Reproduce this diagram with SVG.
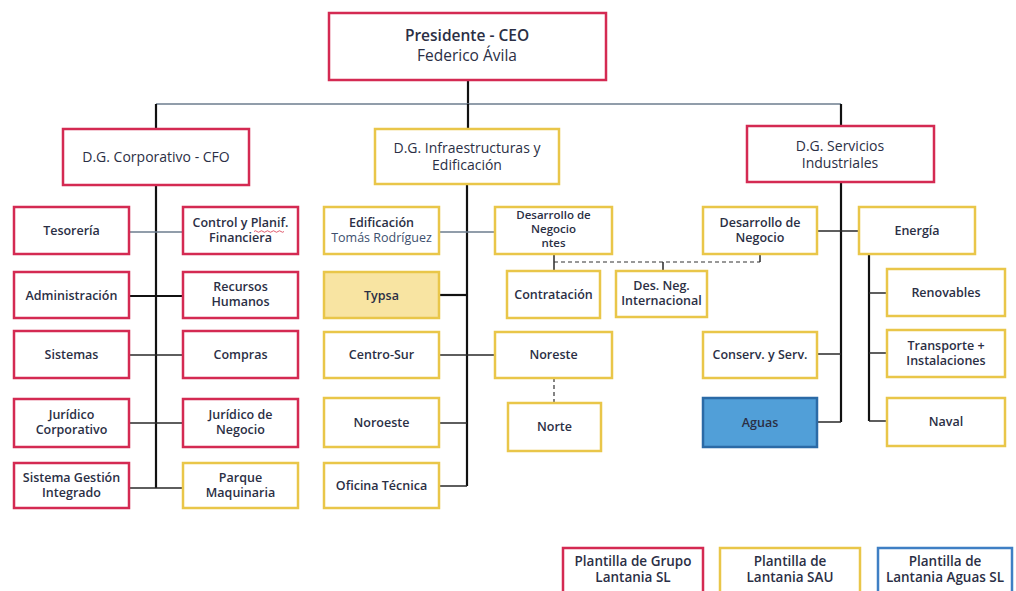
<svg xmlns="http://www.w3.org/2000/svg" width="1016" height="591" viewBox="0 0 1016 591">
<style>
.bx{fill:#fff;stroke-width:2.5}
.r{stroke:#d42a52}
.y{stroke:#e9c649}
.b{stroke:#3f7fc4}
.t{font-family:"Open Sans","Noto Sans",sans-serif;font-size:12.5px;font-weight:600;fill:#2b2f45;text-anchor:middle}
.dg{font-size:14px;font-weight:500}
.lg{font-size:13.5px}
.n{font-weight:400}
.main{stroke:#111;stroke-width:2.2;fill:none}
.br{stroke:#2a2a2a;stroke-width:1.5;fill:none}
.lt{stroke:#6c7c8e;stroke-width:1.4;fill:none}
.ds{stroke:#333;stroke-width:1.2;stroke-dasharray:4 3;fill:none}
</style>
<rect width="1016" height="591" fill="#fff"/>
<g id="connectors">
<path class="main" d="M468 80V104"/>
<path class="lt" d="M156 104H841"/>
<path class="main" d="M156 104V129M468 104V129M841 104V126"/>
<path class="main" d="M156 185V488"/>
<path class="lt" d="M129 232H183"/>
<path class="main" d="M129 296H183"/>
<path class="br" d="M129 355H183M129 423H183M129 488H183"/>
<path class="main" d="M467 184V486"/>
<path class="lt" d="M439 232H495"/>
<path class="main" d="M439 295H467"/>
<path class="br" d="M439 355H495M439 423H467M439 486H467"/>
<path class="br" d="M554 254V271"/>
<path class="ds" d="M554 262H760"/>
<path class="br" d="M760 254V262M663 262V271"/>
<path class="ds" d="M554 378V403"/>
<path class="main" d="M841 182V422"/>
<path class="br" d="M817 231H859M817 354H841M817 422H841"/>
<path class="main" d="M869 254V421"/>
<path class="br" d="M869 293H887M869 353H887M869 421H887"/>
</g>
<g id="ceo"><rect class="bx r" x="329" y="13" width="277" height="67"/><text class="t" x="467" y="41" style="font-size:15.5px">Presidente - CEO</text><text class="t n" x="467" y="61" style="font-size:15.5px">Federico Ávila</text></g>
<g id="dg-corp"><rect class="bx r" x="63" y="129" width="186" height="56"/><text class="t dg" x="156" y="162">D.G. Corporativo - CFO</text></g>
<g id="dg-infra"><rect class="bx y" x="375" y="129" width="184" height="55"/><text class="t dg" x="467" y="153">D.G. Infraestructuras y</text><text class="t dg" x="467" y="170">Edificación</text></g>
<g id="dg-serv"><rect class="bx r" x="747" y="126" width="187" height="56"/><text class="t dg" x="840" y="151">D.G. Servicios</text><text class="t dg" x="840" y="168">Industriales</text></g>

<g id="tesoreria"><rect class="bx r" x="14" y="207" width="115" height="47"/><text class="t" x="71.5" y="235">Tesorería</text></g>
<g id="control"><rect class="bx r" x="183" y="207" width="115" height="47"/><text class="t" x="240.5" y="227">Control y Planif.</text><text class="t" x="240.5" y="242">Financiera</text><path d="M254 231.5q1.5 -1.5 3 0t3 0t3 0t3 0t3 0t3 0t3 0t3 0t3 0t3 0" fill="none" stroke="#d8354d" stroke-width="0.8"/></g>
<g id="administracion"><rect class="bx r" x="14" y="272" width="115" height="46"/><text class="t" x="71.5" y="300">Administración</text></g>
<g id="rrhh"><rect class="bx r" x="183" y="272" width="115" height="46"/><text class="t" x="240.5" y="291">Recursos</text><text class="t" x="240.5" y="306">Humanos</text></g>
<g id="sistemas"><rect class="bx r" x="14" y="331" width="115" height="47"/><text class="t" x="71.5" y="359">Sistemas</text></g>
<g id="compras"><rect class="bx r" x="183" y="331" width="115" height="47"/><text class="t" x="240.5" y="359">Compras</text></g>
<g id="juridico-corp"><rect class="bx r" x="14" y="399" width="115" height="48"/><text class="t" x="71.5" y="419">Jurídico</text><text class="t" x="71.5" y="434">Corporativo</text></g>
<g id="juridico-neg"><rect class="bx r" x="183" y="399" width="115" height="48"/><text class="t" x="240.5" y="419">Jurídico de</text><text class="t" x="240.5" y="434">Negocio</text></g>
<g id="sgi"><rect class="bx r" x="14" y="463" width="115" height="45"/><text class="t" x="71.5" y="482">Sistema Gestión</text><text class="t" x="71.5" y="497">Integrado</text></g>
<g id="parque"><rect class="bx y" x="183" y="463" width="115" height="45"/><text class="t" x="240.5" y="482">Parque</text><text class="t" x="240.5" y="497">Maquinaria</text></g>

<g id="edificacion"><rect class="bx y" x="324" y="207" width="115" height="47"/><text class="t" x="381.5" y="227">Edificación</text><text class="t n" x="381.5" y="242" style="fill:#3d4f6e">Tomás Rodríguez</text></g>
<g id="typsa"><rect class="bx y" x="324" y="272" width="115" height="46" style="fill:#f8e4a2"/><text class="t" x="381.5" y="300">Typsa</text></g>
<g id="centro-sur"><rect class="bx y" x="324" y="332" width="115" height="46"/><text class="t" x="381.5" y="359">Centro-Sur</text></g>
<g id="noroeste"><rect class="bx y" x="324" y="398" width="115" height="49"/><text class="t" x="381.5" y="427">Noroeste</text></g>
<g id="oficina"><rect class="bx y" x="324" y="463" width="115" height="45"/><text class="t" x="381.5" y="490">Oficina Técnica</text></g>
<g id="desarrollo-infra"><rect class="bx y" x="495" y="207" width="117" height="47"/><text class="t" x="553.5" y="219" style="font-size:11.5px">Desarrollo de</text><text class="t" x="553.5" y="233" style="font-size:11.5px">Negocio</text><text class="t" x="553.5" y="247" style="font-size:11.5px">ntes</text></g>
<g id="contratacion"><rect class="bx y" x="507" y="271" width="93" height="47"/><text class="t" x="553.5" y="299">Contratación</text></g>
<g id="des-neg-int"><rect class="bx y" x="616" y="271" width="91" height="46"/><text class="t" x="661.5" y="290">Des. Neg.</text><text class="t" x="661.5" y="305">Internacional</text></g>
<g id="noreste"><rect class="bx y" x="495" y="332" width="117" height="46"/><text class="t" x="553.5" y="359">Noreste</text></g>
<g id="norte"><rect class="bx y" x="508" y="403" width="93" height="48"/><text class="t" x="554.5" y="431">Norte</text></g>

<g id="desarrollo-serv"><rect class="bx y" x="703" y="207" width="114" height="47"/><text class="t" x="760" y="227">Desarrollo de</text><text class="t" x="760" y="242">Negocio</text></g>
<g id="conserv"><rect class="bx y" x="703" y="332" width="114" height="46"/><text class="t" x="760" y="359">Conserv. y Serv.</text></g>
<g id="aguas"><rect class="bx" x="703" y="398" width="114" height="49" style="fill:#519fd8;stroke:#2b6aa6"/><text class="t" x="760" y="427">Aguas</text></g>
<g id="energia"><rect class="bx y" x="859" y="207" width="116" height="47"/><text class="t" x="917" y="235">Energía</text></g>
<g id="renovables"><rect class="bx y" x="887" y="269" width="118" height="47"/><text class="t" x="946" y="297">Renovables</text></g>
<g id="transporte"><rect class="bx y" x="887" y="330" width="118" height="47"/><text class="t" x="946" y="350">Transporte +</text><text class="t" x="946" y="365">Instalaciones</text></g>
<g id="naval"><rect class="bx y" x="887" y="398" width="118" height="48"/><text class="t" x="946" y="426">Naval</text></g>

<g id="legend-grupo"><rect class="bx r" x="563" y="548" width="140" height="50"/><text class="t lg" x="633" y="566">Plantilla de Grupo</text><text class="t lg" x="633" y="582">Lantania SL</text></g>
<g id="legend-sau"><rect class="bx y" x="720" y="548" width="140" height="50"/><text class="t lg" x="790" y="566">Plantilla de</text><text class="t lg" x="790" y="582">Lantania SAU</text></g>
<g id="legend-aguas"><rect class="bx b" x="878" y="548" width="134" height="50"/><text class="t lg" x="945" y="566">Plantilla de</text><text class="t lg" x="945" y="582">Lantania Aguas SL</text></g>
</svg>
